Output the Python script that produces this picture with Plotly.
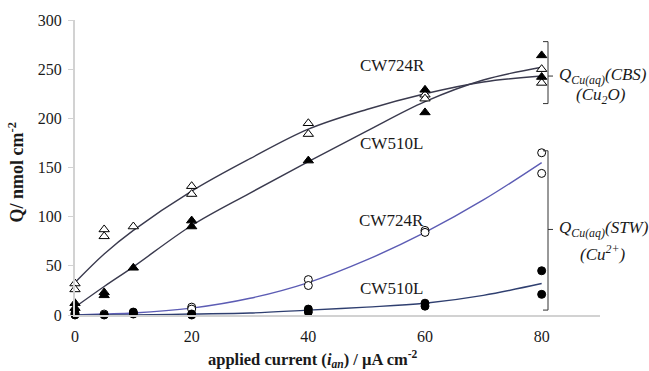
import plotly.graph_objects as go

# ---------------- data ----------------
# CBS (Cu2O) — CW724R (open triangles) and CW510L (filled triangles)
x_cbs_724 = [0, 0, 5, 5, 10, 20, 20, 40, 40, 60, 60, 80, 80]
y_cbs_724 = [32, 26, 87, 80, 90, 131, 123, 195, 184, 224, 220, 250, 236]
x_cbs_510 = [0, 0, 5, 5, 10, 20, 20, 40, 60, 60, 80, 80]
y_cbs_510 = [12, 7, 23, 20, 48, 96, 90, 157, 229, 206, 264, 242]

# STW (Cu2+) — CW724R (open circles) and CW510L (filled circles)
x_stw_724 = [0, 5, 10, 20, 20, 40, 40, 60, 60, 80, 80]
y_stw_724 = [1, 1, 2, 8, 6, 36, 30, 86, 84, 165, 144]
x_stw_510 = [0, 0, 5, 10, 10, 20, 20, 40, 40, 60, 60, 80, 80]
y_stw_510 = [2, 0, 0, 3, 1, 1, 0, 6, 3, 12, 9, 45, 21]

# trend curves
fit_x = [0, 5, 10, 20, 30, 40, 50, 60, 70, 80]
fit_cbs_724 = [33, 62, 86, 126, 159, 189, 209, 225, 237, 243]
fit_cbs_510 = [8, 29, 49, 91, 124, 156, 187, 217, 239, 252]
fit_stw_724 = [0, 1, 2, 7, 17, 33, 56, 84, 117, 155]
fit_stw_510 = [0, 0, 0, 1, 2, 5, 8, 12, 20, 32]

x_ticks = [0, 20, 40, 60, 80]
y_ticks = [0, 50, 100, 150, 200, 250, 300]

SERIF = "Liberation Serif, Times New Roman, serif"
C_CBS = "#3a3a4e"
C_STW724 = "#5c5cb4"
C_STW510 = "#2f3f70"
TXT = "#1a1a1a"

fig = go.Figure()

def curve(y, color):
    fig.add_trace(go.Scatter(x=fit_x, y=y, mode="lines",
                             line=dict(color=color, width=1.4, shape="spline", smoothing=1),
                             cliponaxis=False, hoverinfo="skip", showlegend=False))

curve(fit_cbs_724, C_CBS)
curve(fit_cbs_510, C_CBS)
curve(fit_stw_724, C_STW724)
curve(fit_stw_510, C_STW510)

def pts(x, y, symbol, fill, size):
    fig.add_trace(go.Scatter(x=x, y=y, mode="markers", cliponaxis=False, showlegend=False,
                             marker=dict(symbol=symbol, size=size, color=fill,
                                         line=dict(color="black", width=1))))

pts(x_stw_724, y_stw_724, "circle", "white", 8)
pts(x_stw_510, y_stw_510, "circle", "black", 8)
pts(x_cbs_724, y_cbs_724, "triangle-up", "white", 9)
pts(x_cbs_510, y_cbs_510, "triangle-up", "black", 9)

W, H = 649, 371
L, R, T, B = 75, 49, 15, 56
XMAX, YMAX = 90, 300
PW, PH = W - L - R, H - T - B

def px(xp):   # pixel x -> paper x
    return (xp - L) / PW

def py(yp):   # pixel y -> paper y
    return (H - B - yp) / PH

ann = []
lab_font = dict(family=SERIF, size=17, color=TXT)
for txt, xp, yp in [("CW724R", 392, 61), ("CW510L", 391, 141),
                    ("CW724R", 391, 219), ("CW510L", 391, 288)]:
    ann.append(dict(x=px(xp), y=py(yp), xref="paper", yref="paper", text=txt, showarrow=False,
                    font=lab_font, xanchor="center", yanchor="middle"))

q_font = dict(family=SERIF, size=17, color=TXT)
ann += [
    dict(x=px(557), y=py(72), xref="paper", yref="paper", xanchor="left", yanchor="middle",
         text="<i>Q<sub>Cu(aq)</sub>(CBS)</i>", showarrow=False, font=q_font),
    dict(x=px(601), y=py(92), xref="paper", yref="paper", xanchor="center", yanchor="middle",
         text="<i>(Cu<sub>2</sub>O)</i>", showarrow=False, font=q_font),
    dict(x=px(557), y=py(228), xref="paper", yref="paper", xanchor="left", yanchor="middle",
         text="<i>Q<sub>Cu(aq)</sub>(STW)</i>", showarrow=False, font=q_font),
    dict(x=px(602), y=py(252), xref="paper", yref="paper", xanchor="center", yanchor="middle",
         text="<i>(Cu<sup>2+</sup>)</i>", showarrow=False, font=q_font),
    dict(x=px(313), y=py(360), xref="paper", yref="paper", xanchor="center", yanchor="middle",
         text="<b>applied current (<i>i<sub>an</sub></i>) / µA cm<sup>-2</sup></b>",
         showarrow=False, font=dict(family=SERIF, size=16.5, color=TXT)),
    dict(x=px(16), y=py(170), xref="paper", yref="paper", xanchor="center", yanchor="middle",
         text="<b>Q/ nmol cm<sup>-2</sup></b>", textangle=-90,
         showarrow=False, font=dict(family=SERIF, size=18, color=TXT)),
]

shapes = []
def bracket(top, bot, mid):
    xl, xr, xt = px(543), px(548), px(553)
    line = dict(color="#333333", width=1)
    for (x0, y0, x1, y1) in [(xl, py(top), xr, py(top)), (xr, py(top), xr, py(bot)),
                             (xl, py(bot), xr, py(bot)), (xr, py(mid), xt, py(mid))]:
        shapes.append(dict(type="line", xref="paper", yref="paper", x0=x0, y0=y0, x1=x1, y1=y1,
                           line=line))

bracket(37, 100, 72)
bracket(148, 310, 228)

fig.update_layout(
    width=W, height=H, margin=dict(l=L, r=R, t=T, b=B),
    paper_bgcolor="white", plot_bgcolor="white",
    annotations=ann, shapes=shapes,
    xaxis=dict(range=[0, XMAX], tickvals=x_ticks, ticktext=[str(v) for v in x_ticks],
               showline=True, linecolor="#d2d2d2", linewidth=2, showgrid=False,
               zeroline=False, ticks="", ticklabelstandoff=6,
               tickfont=dict(family=SERIF, size=16, color=TXT)),
    yaxis=dict(range=[0, YMAX], tickvals=y_ticks, showline=True, linecolor="#d2d2d2",
               linewidth=2, showgrid=False, zeroline=False, ticks="outside", ticklen=5,
               tickcolor="#d2d2d2", ticklabelstandoff=3,
               tickfont=dict(family=SERIF, size=16, color=TXT)),
)

fig.write_html("out.html")
